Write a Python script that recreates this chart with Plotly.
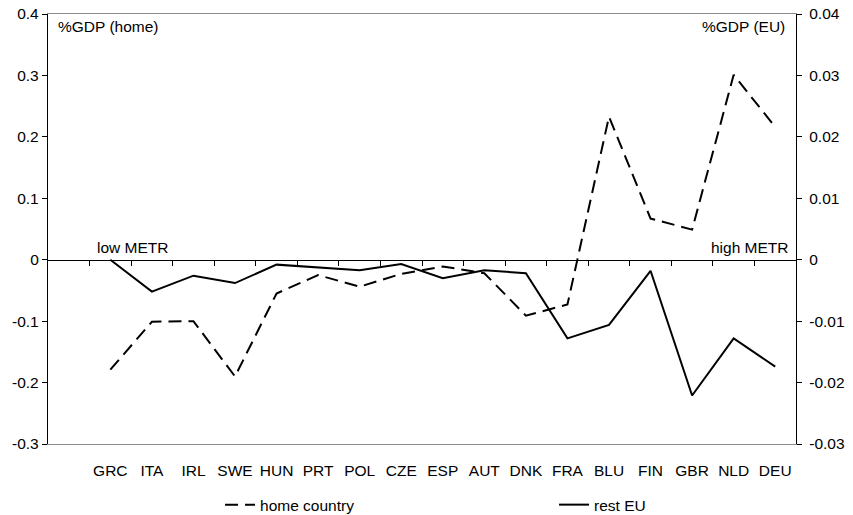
import plotly.graph_objects as go

countries = ["GRC", "ITA", "IRL", "SWE", "HUN", "PRT", "POL", "CZE", "ESP",
             "AUT", "DNK", "FRA", "BLU", "FIN", "GBR", "NLD", "DEU"]
home_country = [-0.179, -0.101, -0.100, -0.190, -0.055, -0.025, -0.044, -0.023, -0.011,
                -0.022, -0.091, -0.073, 0.233, 0.067, 0.049, 0.301, 0.216]
rest_eu = [0.0, -0.0052, -0.0026, -0.0038, -0.0008, -0.0012, -0.0017, -0.0007, -0.0030,
           -0.0017, -0.0022, -0.0128, -0.0106, -0.0018, -0.0221, -0.0128, -0.0174]

left_ticks = [-0.3, -0.2, -0.1, 0.0, 0.1, 0.2, 0.3, 0.4]
left_labels = ["-0.3", "-0.2", "-0.1", "0", "0.1", "0.2", "0.3", "0.4"]
right_ticks = [-0.03, -0.02, -0.01, 0.0, 0.01, 0.02, 0.03, 0.04]
right_labels = ["-0.03", "-0.02", "-0.01", "0", "0.01", "0.02", "0.03", "0.04"]

FONT = "Liberation Sans, Arial, sans-serif"
FS = 15.5

fig = go.Figure()
fig.add_trace(go.Scatter(
    x=countries, y=home_country, name="home country", mode="lines",
    line=dict(color="black", width=2, dash="13px,7px"),
    xaxis="x", yaxis="y"))
fig.add_trace(go.Scatter(
    x=countries, y=rest_eu, name="rest EU", mode="lines",
    line=dict(color="black", width=2),
    xaxis="x2", yaxis="y2"))

zero_pos = (0 - left_ticks[0]) / (left_ticks[-1] - left_ticks[0])

fig.update_layout(
    width=853, height=515,
    margin=dict(l=48, r=57, t=14, b=71, autoexpand=False),
    paper_bgcolor="white", plot_bgcolor="white",
    font=dict(family=FONT, size=FS, color="black"),
    showlegend=True,
    legend=dict(orientation="h", x=0.230, y=-0.142, xanchor="left", yanchor="middle",
                entrywidth=289, entrywidthmode="pixels", itemwidth=30,
                font=dict(family=FONT, size=FS, color="black"),
                bgcolor="rgba(0,0,0,0)"),
    xaxis=dict(type="category", categoryorder="array", categoryarray=countries,
               range=[-1.5, len(countries) - 0.5],
               showline=True, linecolor="#8c8c8c", linewidth=1, mirror=True,
               ticks="", showgrid=False, zeroline=False,
               ticklabelstandoff=12, automargin=False,
               tickfont=dict(family=FONT, size=FS, color="black")),
    xaxis2=dict(type="category", matches="x", overlaying="x",
                anchor="free", position=zero_pos, automargin=False,
                showline=True, linecolor="black", linewidth=1.3,
                ticks="outside", tickson="boundaries", ticklen=5, tickcolor="black",
                tickwidth=1, showticklabels=False, showgrid=False, zeroline=False),
    yaxis=dict(range=[left_ticks[0], left_ticks[-1]], tickvals=left_ticks, ticktext=left_labels,
               showline=True, linecolor="black", linewidth=1.3, automargin=False,
               ticks="outside", ticklen=5, tickcolor="black",
               showgrid=False, zeroline=False,
               tickfont=dict(family=FONT, size=FS, color="black")),
    yaxis2=dict(range=[right_ticks[0], right_ticks[-1]], tickvals=right_ticks, ticktext=right_labels,
                overlaying="y", side="right", anchor="x", automargin=False,
                showline=True, linecolor="black", linewidth=1.3,
                ticks="outside", ticklen=5, tickcolor="black",
                showgrid=False, zeroline=False, ticklabelstandoff=4,
                tickfont=dict(family=FONT, size=FS, color="black")),
)

ann_font = dict(family=FONT, size=FS, color="black")
fig.add_annotation(text="%GDP (home)", xref="paper", yref="paper", x=0.0107, y=0.970,
                   xanchor="left", yanchor="middle", showarrow=False, font=ann_font)
fig.add_annotation(text="%GDP (EU)", xref="paper", yref="paper", x=0.988, y=0.970,
                   xanchor="right", yanchor="middle", showarrow=False, font=ann_font)
fig.add_annotation(text="low METR", xref="paper", yref="paper", x=0.0628, y=0.456,
                   xanchor="left", yanchor="middle", showarrow=False, font=ann_font)
fig.add_annotation(text="high METR", xref="paper", yref="paper", x=0.9933, y=0.456,
                   xanchor="right", yanchor="middle", showarrow=False, font=ann_font)

# remove the default 8px page margin so the figure sits at the window's top-left corner
fig.write_html("out.html", config={"displayModeBar": False},
               post_script="document.body.style.margin='0px';")
